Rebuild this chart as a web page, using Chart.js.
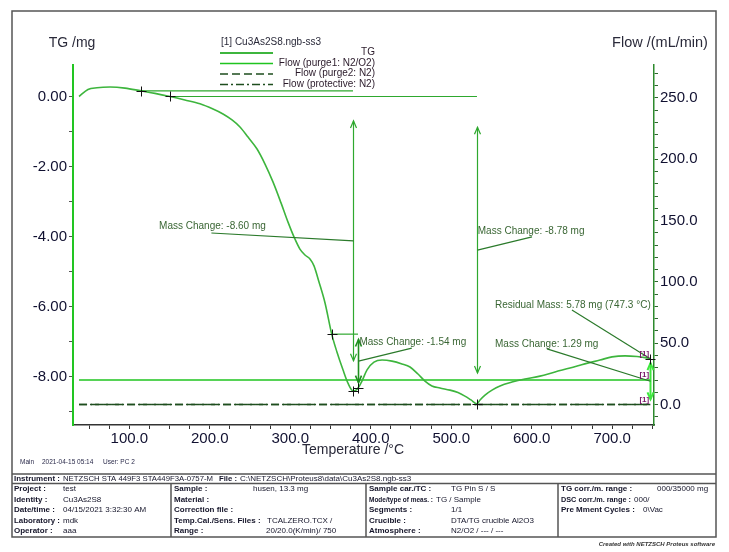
<!DOCTYPE html>
<html>
<head>
<meta charset="utf-8">
<script src="https://cdn.jsdelivr.net/npm/chart.js@4.4.1/dist/chart.umd.min.js"></script>
<style>
html, body { margin: 0; padding: 0; background: #fff; }
canvas { display: block; }
</style>
</head>
<body>
<canvas id="tg" width="729" height="552"></canvas>
<script>
// TG curve (temperature in degC, mass change in mg)
var tgTemp = [37.5, 48.6, 59.8, 76, 94.6, 114.5, 131.9, 150.5, 169, 187.8, 204, 216.4, 227.6, 237.5, 247.5,
  258.7, 268.6, 278.5, 288.5, 297.2, 304.6, 312, 318.3, 324.5, 329.5, 335.7, 343.2, 351.5, 358, 365.5, 371.7,
  378, 381.7, 384.2, 389.1, 395.4, 404, 414, 426.4, 438.8, 448.8, 458.7, 467.4, 476, 486, 498.5, 508.4, 517,
  524.6, 532, 535.8, 542, 550.7, 560.6, 575.5, 591.7, 610.3, 629, 647.6, 666, 684.9, 699.8, 716, 730.9, 740.8, 747.3];
var tgMass = [0.0, 0.2, 0.25, 0.27, 0.24, 0.16, 0.09, 0.0, -0.1, -0.21, -0.36, -0.5, -0.67, -0.87, -1.16,
  -1.5, -1.93, -2.44, -3.04, -3.59, -4.01, -4.36, -4.53, -4.64, -4.84, -5.3, -5.9, -6.79, -7.3, -7.81, -8.19,
  -8.41, -8.39, -8.33, -8.13, -7.81, -7.59, -7.53, -7.56, -7.64, -7.73, -7.93, -8.13, -8.27, -8.33, -8.39, -8.46, -8.56,
  -8.67, -8.78, -8.67, -8.53, -8.39, -8.27, -8.16, -8.07, -7.99, -7.87, -7.76, -7.64, -7.53, -7.44, -7.41, -7.43, -7.46, -7.49];

// gas flows (mL/min)
var flowTemp = [37.5, 747.3];
var flowPurge1 = [20, 20];
var flowPurge2 = [0, 0];
var flowProtective = [0, 0];

// evaluation: tangent baselines
var baseFrom = [114.5, 150.5, 351.5];
var baseTo = [378, 532, 384.2];
var baseMass = [0.16, 0.0, -6.79];

// evaluation: mass steps
var stepTemp = [378, 532, 384.2, 747.3];
var stepTop = [0.16, 0.0, -6.79, -7.49];
var stepBottom = [-8.41, -8.78, -8.33, -8.78];
var stepText = ["Mass Change: -8.60 mg", "Mass Change: -8.78 mg", "Mass Change: -1.54 mg", "Mass Change: 1.29 mg"];

var residualTemp = 747.3;
var residualMass = -7.49;
var residualText = "Residual Mass: 5.78 mg (747.3 \u00b0C)";

var markTemp = [114.5, 150.5, 351.5, 378, 384.2, 532, 747.3];
var markMass = [0.16, 0.0, -6.79, -8.41, -8.33, -8.78, -7.49];

// where the evaluation texts sit (data coords) and where their leader starts
var stepLabelAt = [[137, -3.7], [533, -3.84], [386, -7.03], [554.4, -7.07]];
var stepLeaderFrom = [[202, -3.9], [600.4, -4.01], [451, -7.19], [619, -7.21]];
var residualLabelAt = [554.4, -5.96];
var residualLeaderFrom = [650, -6.1];

var FONT = '"Liberation Sans", Arial, sans-serif';

function pts(xs, ys) {
  return xs.map(function (x, i) { return { x: x, y: ys[i] }; });
}

function arrowHead(ctx, x, y, dir) {
  ctx.beginPath();
  ctx.moveTo(x - 3, y - dir * 7);
  ctx.lineTo(x, y);
  ctx.lineTo(x + 3, y - dir * 7);
  ctx.stroke();
}

var evaluation = {
  id: "evaluation",
  afterDatasetsDraw: function (chart) {
    var ctx = chart.ctx;
    var sx = chart.scales.x, sy = chart.scales.y, sy1 = chart.scales.y1;
    var px = function (t) { return sx.getPixelForValue(t); };
    var py = function (m) { return sy.getPixelForValue(m); };
    ctx.save();

    ctx.strokeStyle = "#2ea82e";
    ctx.lineWidth = 1.2;
    for (var i = 0; i < baseFrom.length; i++) {
      ctx.beginPath();
      ctx.moveTo(px(baseFrom[i]), py(baseMass[i]));
      ctx.lineTo(px(baseTo[i]), py(baseMass[i]));
      ctx.stroke();
    }

    for (i = 0; i < stepTemp.length; i++) {
      var x = Math.round(px(stepTemp[i])) + 0.5;
      var yt = py(stepTop[i]), yb = py(stepBottom[i]);
      var hi = Math.min(yt, yb), lo = Math.max(yt, yb);
      var a = hi + (lo - hi) * 0.1, b = hi + (lo - hi) * 0.9;
      if (i === 3) { ctx.strokeStyle = "#3ee83e"; ctx.lineWidth = 2; }
      else if (i === 2) { ctx.strokeStyle = "#1f8f1f"; ctx.lineWidth = 1.6; }
      else { ctx.strokeStyle = "#2ea82e"; ctx.lineWidth = 1.2; }
      ctx.beginPath();
      ctx.moveTo(x, a);
      ctx.lineTo(x, b);
      ctx.stroke();
      arrowHead(ctx, x, a, -1);
      arrowHead(ctx, x, b, 1);

      // leader
      ctx.strokeStyle = "#2b7a2b";
      ctx.lineWidth = 1.2;
      ctx.beginPath();
      ctx.moveTo(px(stepLeaderFrom[i][0]), py(stepLeaderFrom[i][1]));
      ctx.lineTo(x, (hi + lo) / 2);
      ctx.stroke();
    }

    ctx.beginPath();
    ctx.moveTo(px(residualLeaderFrom[0]), py(residualLeaderFrom[1]));
    ctx.lineTo(px(residualTemp), py(residualMass));
    ctx.stroke();

    // + markers
    ctx.strokeStyle = "#111";
    ctx.lineWidth = 1;
    for (i = 0; i < markTemp.length; i++) {
      var mx = Math.round(px(markTemp[i])) + 0.5, my = Math.round(py(markMass[i])) + 0.5;
      ctx.beginPath();
      ctx.moveTo(mx - 5, my); ctx.lineTo(mx + 5, my);
      ctx.moveTo(mx, my - 5); ctx.lineTo(mx, my + 5);
      ctx.stroke();
    }

    // texts
    ctx.font = "10px " + FONT;
    ctx.fillStyle = "#3a6634";
    ctx.textBaseline = "middle";
    ctx.textAlign = "left";
    for (i = 0; i < stepText.length; i++) {
      ctx.fillText(stepText[i], px(stepLabelAt[i][0]), py(stepLabelAt[i][1]));
    }
    ctx.fillText(residualText, px(residualLabelAt[0]), py(residualLabelAt[1]));

    // curve tags at the right end
    ctx.font = "bold 8px " + FONT;
    ctx.fillStyle = "#7a1a6a";
    ctx.textAlign = "right";
    ctx.textBaseline = "bottom";
    var xe = px(flowTemp[1]) - 1;
    ctx.fillText("[1]", xe, py(tgMass[tgMass.length - 1]) - 1);
    ctx.fillText("[1]", xe, sy1.getPixelForValue(flowPurge1[1]) - 1);
    ctx.fillText("[1]", xe, sy1.getPixelForValue(flowPurge2[1]) - 1);
    ctx.restore();
  }
};

// label in bold, value in normal weight, both squeezed to fit their column
function cell(ctx, label, value, x, vx, y, vmax) {
  ctx.font = "bold 8px " + FONT;
  var w = ctx.measureText(label).width;
  ctx.fillText(label, x, y, Math.min(w, vx - x - 3));
  ctx.font = "8px " + FONT;
  if (value) {
    w = ctx.measureText(value).width;
    ctx.fillText(value, vx, y, vmax ? Math.min(w, vmax) : w);
  }
}

var page = {
  id: "page",
  afterDraw: function (chart) {
    var ctx = chart.ctx;
    ctx.save();
    // frame and info table
    ctx.strokeStyle = "#555";
    ctx.lineWidth = 1.5;
    ctx.strokeRect(12, 11, 704, 526);
    ctx.beginPath();
    ctx.moveTo(12, 474); ctx.lineTo(716, 474);
    ctx.moveTo(12, 483.5); ctx.lineTo(716, 483.5);
    ctx.moveTo(171, 483.5); ctx.lineTo(171, 537);
    ctx.moveTo(366, 483.5); ctx.lineTo(366, 537);
    ctx.moveTo(558, 483.5); ctx.lineTo(558, 537);
    ctx.stroke();

    ctx.textBaseline = "middle";
    ctx.textAlign = "left";
    ctx.fillStyle = "#2a2a3a";

    // axis titles
    ctx.font = "14px " + FONT;
    ctx.textAlign = "center";
    ctx.fillText("TG /mg", 72, 43);
    ctx.font = "14.5px " + FONT;
    ctx.fillText("Flow /(mL/min)", 660, 43);
    ctx.font = "14px " + FONT;
    ctx.fillText("Temperature /\u00b0C", 353, 450);

    // legend
    ctx.textAlign = "left";
    ctx.font = "10px " + FONT;
    ctx.fillText("[1] Cu3As2S8.ngb-ss3", 221, 42);
    var ly = [53, 63.5, 74, 84.5];
    var names = ["TG", "Flow (purge1: N2/O2)", "Flow (purge2: N2)", "Flow (protective: N2)"];
    var ds = chart.data.datasets;
    for (var i = 0; i < 4; i++) {
      ctx.strokeStyle = ds[i].borderColor;
      ctx.lineWidth = i === 0 ? 2 : ds[i].borderWidth;
      ctx.setLineDash(ds[i].borderDash || []);
      ctx.beginPath();
      ctx.moveTo(220, ly[i]); ctx.lineTo(273, ly[i]);
      ctx.stroke();
    }
    ctx.setLineDash([]);
    ctx.textAlign = "right";
    ctx.fillStyle = "#2a1a2a";
    for (i = 0; i < 4; i++) ctx.fillText(names[i], 375, ly[i] - 0.5);

    // footer line
    ctx.textAlign = "left";
    ctx.fillStyle = "#2a2a4a";
    ctx.font = "6.5px " + FONT;
    ctx.fillText("Main", 20, 462);
    ctx.fillText("2021-04-15 05:14", 42, 462);
    ctx.fillText("User: PC 2", 103, 462);

    ctx.fillStyle = "#15152a";
    cell(ctx, "Instrument :", "NETZSCH STA 449F3 STA449F3A-0757-M", 14, 63, 479, 150);
    cell(ctx, "File :", "C:\\NETZSCH\\Proteus8\\data\\Cu3As2S8.ngb-ss3", 219, 240, 479);

    var ry = [489, 499.5, 510, 520.5, 531];
    var c1 = [["Project :", "test"], ["Identity :", "Cu3As2S8"], ["Date/time :", "04/15/2021 3:32:30 AM"],
      ["Laboratory :", "mdk"], ["Operator :", "aaa"]];
    var c2 = [["Sample :", "husen, 13.3 mg", 253], ["Material :", "", 253], ["Correction file :", "", 253],
      ["Temp.Cal./Sens. Files :", "TCALZERO.TCX /", 267], ["Range :", "20/20.0(K/min)/ 750", 266]];
    var c3 = [["Sample car./TC :", "TG Pin S / S", 451], ["Mode/type of meas. :", "TG / Sample", 436],
      ["Segments :", "1/1", 451], ["Crucible :", "DTA/TG crucible Al2O3", 451], ["Atmosphere :", "N2/O2 / --- / ---", 451]];
    var c4 = [["TG corr./m. range :", "000/35000 mg", 657], ["DSC corr./m. range :", "000/", 634],
      ["Pre Mment Cycles :", "0\\Vac", 643]];
    for (i = 0; i < 5; i++) {
      cell(ctx, c1[i][0], c1[i][1], 14, 63, ry[i]);
      cell(ctx, c2[i][0], c2[i][1], 174, c2[i][2], ry[i]);
      cell(ctx, c3[i][0], c3[i][1], 369, c3[i][2], ry[i]);
      if (i < 3) cell(ctx, c4[i][0], c4[i][1], 561, c4[i][2], ry[i]);
    }

    ctx.font = "italic bold 6px " + FONT;
    ctx.textAlign = "right";
    ctx.fillStyle = "#333";
    ctx.fillText("Created with NETZSCH Proteus software", 715, 544);
    ctx.restore();
  }
};

var tickFont = { family: FONT, size: 15 };

new Chart(document.getElementById("tg"), {
  type: "line",
  data: {
    datasets: [
      {
        label: "TG",
        data: pts(tgTemp, tgMass),
        yAxisID: "y",
        borderColor: "#3db53d",
        borderWidth: 1.6,
        pointRadius: 0,
        cubicInterpolationMode: "monotone"
      },
      {
        label: "Flow (purge1: N2/O2)",
        data: pts(flowTemp, flowPurge1),
        yAxisID: "y1",
        borderColor: "#1fc41f",
        borderWidth: 1.4,
        pointRadius: 0
      },
      {
        label: "Flow (purge2: N2)",
        data: pts(flowTemp, flowPurge2),
        yAxisID: "y1",
        borderColor: "#1e4e1e",
        borderWidth: 1.3,
        borderDash: [8, 4],
        pointRadius: 0
      },
      {
        label: "Flow (protective: N2)",
        data: pts(flowTemp, flowProtective),
        yAxisID: "y1",
        borderColor: "#1e4e1e",
        borderWidth: 1.3,
        borderDash: [8, 3, 2, 3],
        pointRadius: 0
      }
    ]
  },
  options: {
    responsive: false,
    animation: false,
    devicePixelRatio: 1,
    layout: { padding: { top: 65, left: 0, right: 0, bottom: 0 } },
    plugins: { legend: { display: false }, tooltip: { enabled: false } },
    scales: {
      x: {
        type: "linear",
        min: 30,
        max: 752,
        afterFit: function (s) { s.height = 127; },
        border: { color: "#333", width: 1.5 },
        grid: { drawOnChartArea: false, tickLength: 4, color: "#333" },
        ticks: {
          stepSize: 25, autoSkip: false, maxRotation: 0, includeBounds: false, padding: 1,
          color: "#101030", font: tickFont,
          callback: function (v) { return v % 100 === 0 ? v.toFixed(1) : ""; }
        }
      },
      y: {
        position: "left",
        min: -9.386,
        max: 0.9,
        afterFit: function (s) { s.width = 73; },
        border: { color: "#22c522", width: 2 },
        grid: { drawOnChartArea: false, tickLength: 4, color: "#555" },
        ticks: {
          stepSize: 1, autoSkip: false, includeBounds: false, padding: 2,
          color: "#101030", font: tickFont,
          callback: function (v) { return Math.round(v) % 2 === 0 ? v.toFixed(2) : ""; }
        }
      },
      y1: {
        position: "right",
        min: -16.7,
        max: 276.9,
        afterFit: function (s) { s.width = 75; },
        border: { color: "#2d8a2d", width: 1.5 },
        grid: { drawOnChartArea: false, tickLength: 4, color: "#2d6a2d" },
        ticks: {
          stepSize: 10, autoSkip: false, includeBounds: false, padding: 2,
          color: "#101030", font: tickFont,
          callback: function (v) { return v % 50 === 0 ? v.toFixed(1) : ""; }
        }
      }
    }
  },
  plugins: [evaluation, page]
});
</script>
</body>
</html>
